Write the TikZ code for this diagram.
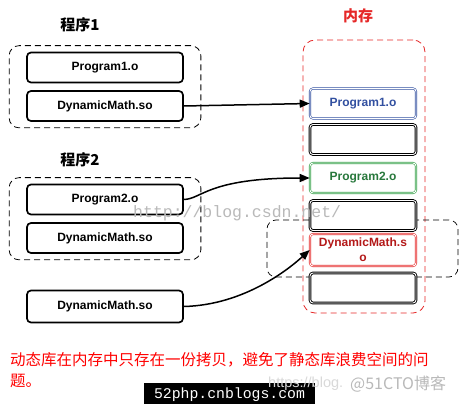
\documentclass[tikz,border=0pt]{standalone}
\usepackage{fontspec}
\setmainfont{Liberation Sans}
\setmonofont{Liberation Mono}
\newfontfamily\cjk{Noto Sans CJK SC}
\usetikzlibrary{arrows.meta, fit}

\definecolor{memred}{RGB}{230,40,40}
\definecolor{objblue}{RGB}{50,80,160}
\definecolor{objgreen}{RGB}{50,160,70}
\definecolor{txtgreen}{RGB}{40,120,60}
\definecolor{txtred}{RGB}{180,25,25}

\tikzset{
 objbox/.style = {draw, line width=1.7pt, rounded corners=4pt, fill=white,
   minimum width=156pt, minimum height=30pt, inner sep=0pt,
   font=\bfseries\fontsize{12}{13}\selectfont},
 slot/.style = {draw, double, line width=0.6pt, double distance=0.9pt,
   rounded corners=3pt, fill=white, minimum width=106pt, minimum height=30pt,
   inner sep=0pt, align=center, font=\bfseries\fontsize{12}{15}\selectfont},
 grpbox/.style = {draw, line width=0.8pt, dash pattern=on 6pt off 4pt,
   rounded corners=10pt},
 link/.style = {-{Triangle[length=10pt,width=8pt]}, line width=1.5pt},
 title/.style = {font=\cjk\bfseries\fontsize{15}{18}\selectfont},
}

\begin{document}
\begin{tikzpicture}[x=1pt, y=-1pt]
\fill[white] (0,0) rectangle (459,404);
\useasboundingbox (0,0) rectangle (459,404);

% programs
\node[title] (lbl1) at (80,25) {程序1};
\node[objbox] (p1) at (105,67.5) {Program1.o};
\node[objbox] (d1) at (105,106) {DynamicMath.so};
\node[grpbox, fit=(p1)(d1), inner xsep=17pt, inner ysep=6pt] (g1) {};

\node[title] (lbl2) at (80,160) {程序2};
\node[objbox] (p2) at (105,199.5) {Program2.o};
\node[objbox] (d2) at (105,238) {DynamicMath.so};
\node[grpbox, fit=(p2)(d2), inner xsep=17pt, inner ysep=6pt] (g2) {};

\node[objbox, minimum height=32pt] (d3) at (105,306.5) {DynamicMath.so};

% memory
\node[title, text=memred] (memlbl) at (358,16) {内存};
\node[grpbox, draw=memred, rounded corners=12pt, minimum width=122pt,
  minimum height=273pt] (mem) at (364,176.5) {};
\node[grpbox, line width=0.7pt, rounded corners=9pt, minimum width=191pt,
  minimum height=57pt] (share) at (362.5,248.5) {};

\node[slot, draw=objblue, text=objblue] (m1) at (363,103.5) {Program1.o};
\node[slot, line width=0.9pt] (m2) at (363,139.5) {};
\node[slot, draw=objgreen, text=txtgreen] (m3) at (363,178) {Program2.o};
\node[slot, line width=0.9pt] (m4) at (363,215.5) {};
\node[slot, draw=memred, text=txtred, minimum height=32pt] (m5) at (363,250) {DynamicMath.s\\o};
\node[slot, line width=0.9pt] (m6) at (363,288) {};

% links
\draw[link] (d1.east) -- (m1.west);
\draw[link] (p2.east) .. controls (202,199) and (208,178) .. (m3.west);
\draw[link] (d3.east) .. controls (245,305) and (290,268) .. (m5.west);

% note
\node[anchor=north west, align=left, text=red, inner sep=0pt,
  font=\cjk\fontsize{15.5}{21}\selectfont] (note) at (10,352)
  {动态库在内存中只存在一份拷贝，避免了静态库浪费空间的问\\题。};

% watermarks
\node[anchor=west, inner sep=0pt, text=gray!55, font=\ttfamily\fontsize{16.5}{18}\selectfont]
  (wm1) at (133,213) {http://blog.csdn.net/};
\node[fill=black, text=white, inner sep=0pt, minimum width=171pt, minimum height=24pt,
  font=\ttfamily\fontsize{14.8}{16}\selectfont] (wm2) at (229.5,395) {52php.cnblogs.com};
\node[anchor=west, inner sep=0pt, text=gray!30, font=\fontsize{14.5}{16}\selectfont]
  (wm3) at (268,384) {https://blog.};
\node[anchor=west, inner sep=0pt, text=gray!55, font=\cjk\fontsize{16}{18}\selectfont]
  (wm4) at (350,384) {@51CTO博客};
\end{tikzpicture}
\end{document}
